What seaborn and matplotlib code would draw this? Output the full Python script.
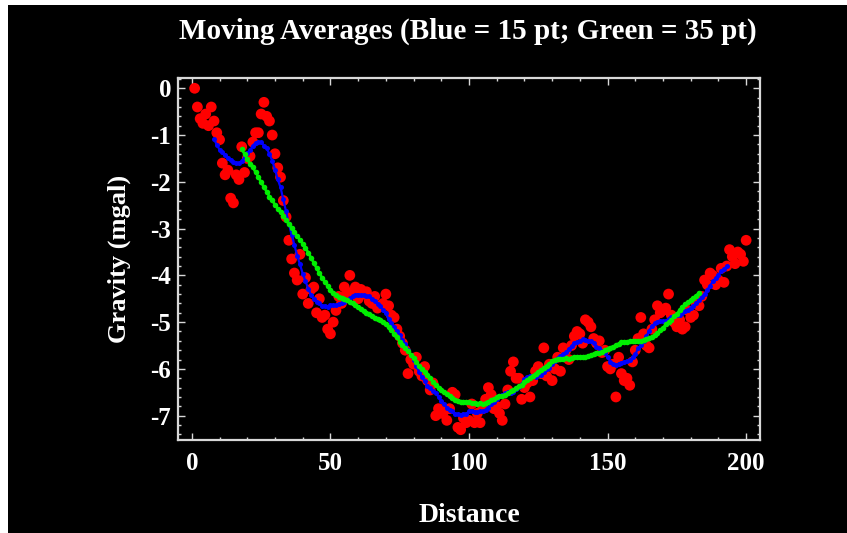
import matplotlib
matplotlib.use("Agg")
import matplotlib.pyplot as plt
from matplotlib.patches import Rectangle
from matplotlib.ticker import MultipleLocator
import pandas as pd
import seaborn as sns

# red survey points, one per unit of distance (1..200)
distance = list(range(1, 201))
gravity = [
    0.00, -0.40, -0.65, -0.75, -0.55, -0.80, -0.40, -0.70, -0.95, -1.10,
    -1.60, -1.85, -1.75, -2.35, -2.45, -1.85, -1.95, -1.25, -1.80, -1.50,
    -1.45, -1.15, -0.95, -0.95, -0.55, -0.30, -0.60, -0.70, -1.00, -1.40,
    -1.70, -1.90, -2.40, -2.75, -3.25, -3.65, -3.95, -4.10, -3.55, -4.40,
    -4.05, -4.60, -4.30, -4.25, -4.80, -4.50, -4.90, -4.85, -5.15, -5.25,
    -5.00, -4.75, -4.45, -4.60, -4.25, -4.40, -4.00, -4.35, -4.25, -4.50,
    -4.30, -4.40, -4.35, -4.55, -4.60, -4.45, -4.70, -4.65, -4.60, -4.40,
    -4.65, -4.85, -4.90, -5.15, -5.30, -5.45, -5.60, -6.10, -5.80, -5.90,
    -5.75, -6.05, -6.15, -5.95, -6.25, -6.45, -6.30, -7.00, -6.85, -6.95,
    -6.90, -7.10, -6.85, -6.50, -6.55, -7.25, -7.30, -7.05, -7.15, -7.10,
    -6.75, -7.15, -6.95, -7.15, -6.85, -6.65, -6.40, -6.55, -6.85, -6.80,
    -6.95, -7.10, -6.75, -6.45, -6.05, -5.85, -6.20, -6.20, -6.65, -6.40,
    -6.30, -6.60, -6.25, -6.05, -5.95, -6.10, -5.55, -6.15, -5.90, -6.25,
    -6.00, -5.75, -6.05, -5.55, -5.60, -5.80, -5.50, -5.30, -5.20, -5.25,
    -5.45, -4.95, -5.00, -5.10, -5.35, -5.45, -5.40, -5.65, -5.60, -5.95,
    -6.00, -5.90, -6.60, -5.75, -6.10, -6.25, -6.20, -6.35, -5.85, -5.60,
    -5.35, -4.90, -5.25, -5.50, -5.55, -5.15, -4.95, -4.65, -4.80, -4.75,
    -4.70, -4.40, -4.85, -5.00, -5.10, -4.95, -5.15, -5.10, -4.75, -4.90,
    -4.85, -4.60, -4.65, -4.45, -4.10, -4.20, -3.95, -4.00, -4.20, -4.10,
    -3.85, -4.15, -3.80, -3.45, -3.60, -3.75, -3.50, -3.55, -3.70, -3.25,
]
short_window = 15
long_window = 35

x_ticks = [0, 50, 100, 150, 200]
y_ticks = [0, -1, -2, -3, -4, -5, -6, -7]

df = pd.DataFrame({"Distance": distance, "Gravity": gravity})
df["short"] = df["Gravity"].rolling(short_window, center=True).mean()
df["long"] = df["Gravity"].rolling(long_window, center=True).mean()

sns.set_theme(style="dark")
plt.rcParams["font.family"] = ["Liberation Serif", "DejaVu Serif"]
plt.rcParams["axes.unicode_minus"] = False

W, H = 847, 533
fig = plt.figure(figsize=(W / 100, H / 100), dpi=100, facecolor="white")
# black panel with a thin white margin on top and left, like the screenshot
fig.patches.append(Rectangle((8 / W, 0), 1, 1 - 5 / H, transform=fig.transFigure,
                             facecolor="black", edgecolor="none", zorder=-10))

ax = fig.add_axes([178 / W, 1 - 440 / H, 582 / W, 362 / H])
ax.set_facecolor("black")

sns.scatterplot(data=df, x="Distance", y="Gravity", color="#ff0000", s=60,
                edgecolor="none", ax=ax, zorder=2)
sns.lineplot(data=df, x="Distance", y="short", color="#0000ff", marker="o",
             markersize=3.6, markeredgewidth=0, linewidth=1.6, ax=ax, zorder=3)
sns.lineplot(data=df, x="Distance", y="long", color="#00ee00", marker="o",
             markersize=4.0, markeredgewidth=0, linewidth=1.8, ax=ax, zorder=4)

ax.set_xlim(-5, 205)
ax.set_ylim(-7.52, 0.22)
ax.set_xticks(x_ticks)
ax.set_yticks(y_ticks)
ax.xaxis.set_minor_locator(MultipleLocator(10))
ax.yaxis.set_minor_locator(MultipleLocator(0.2))

frame = "#d8d8d8"
for sp in ax.spines.values():
    sp.set_visible(True)
    sp.set_color(frame)
    sp.set_linewidth(1.6)
ax.tick_params(which="both", direction="in", bottom=True, top=True, left=True, right=True,
               color=frame, width=1.0)
ax.tick_params(which="major", length=5)
ax.tick_params(which="minor", length=2.5)
ax.tick_params(axis="x", which="major", labelsize=18, labelcolor="white", pad=9)
ax.tick_params(axis="y", which="major", labelsize=18, labelcolor="white", pad=5)
for lab in ax.get_xticklabels() + ax.get_yticklabels():
    lab.set_fontweight("bold")

ax.set_xlabel("Distance", color="white", fontsize=20, fontweight="bold", labelpad=20)
ax.set_ylabel("Gravity (mgal)", color="white", fontsize=19, fontweight="bold", labelpad=14)
ax.grid(False)

fig.text(468 / W, 1 - 31 / H, "Moving Averages (Blue = 15 pt; Green = 35 pt)",
         color="white", fontsize=21, fontweight="bold", ha="center", va="center")

fig.savefig("out.png", dpi=100, facecolor=fig.get_facecolor())
